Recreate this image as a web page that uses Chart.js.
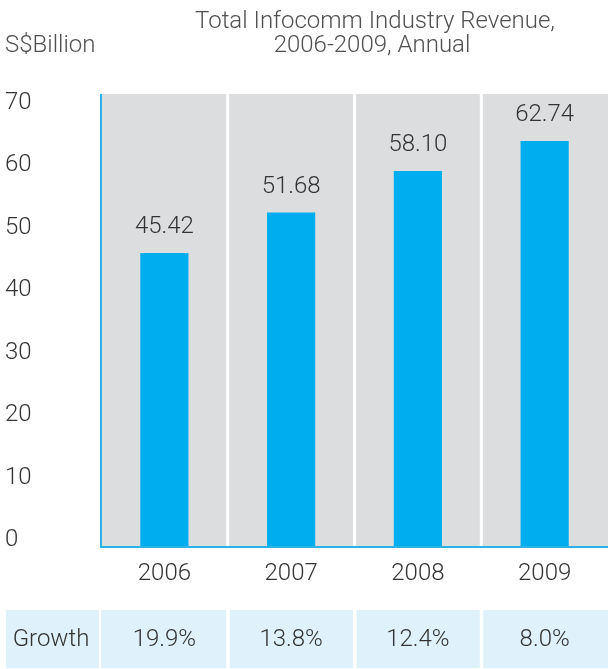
<!DOCTYPE html>
<html>
<head>
<meta charset="utf-8">
<script src="https://cdn.jsdelivr.net/npm/chart.js@4.4.1/dist/chart.umd.min.js"></script>
<style>
  html, body { margin: 0; padding: 0; background: #ffffff; }
  #wrap { width: 608px; height: 669px; position: relative; }
</style>
</head>
<body>
<div id="wrap"><canvas id="c" width="608" height="669"></canvas></div>
<script>
const years = ['2006', '2007', '2008', '2009'];
const revenue = [45.42, 51.68, 58.10, 62.74];
const growth = ['19.9%', '13.8%', '12.4%', '8.0%'];
const growthLabel = 'Growth';
const titleLines = ['Total Infocomm Industry Revenue,', '2006-2009, Annual'];
const unitLabel = 'S$Billion';
const yTicks = [0, 10, 20, 30, 40, 50, 60, 70];

const FAMILY = "Roboto, 'Liberation Sans', Arial, sans-serif";
const WEIGHT = 300;
const SIZE = 24;
const FONTSTR = WEIGHT + ' ' + SIZE + 'px ' + FAMILY;
const TEXT = '#333333';
const BLUE = '#00AEEF';
const AXIS = '#2BB3E6';
const GRAY = '#DCDDDF';
const LIGHT = '#DFF1FA';

const decor = {
  id: 'decor',
  beforeDatasetsDraw(chart) {
    const { ctx, chartArea: a, scales: { x } } = chart;
    ctx.save();
    ctx.fillStyle = GRAY;
    ctx.fillRect(a.left, a.top, a.right - a.left, a.bottom - a.top);
    ctx.fillStyle = '#ffffff';
    for (let i = 1; i < years.length; i++) {
      const b = (x.getPixelForValue(i - 1) + x.getPixelForValue(i)) / 2;
      ctx.fillRect(b - 1.5, a.top, 3, a.bottom - a.top);
    }
    ctx.restore();
  },
  afterDraw(chart) {
    const { ctx, chartArea: a, scales: { x } } = chart;
    ctx.save();
    ctx.strokeStyle = AXIS;
    ctx.lineWidth = 2;
    ctx.beginPath();
    ctx.moveTo(a.left, a.top);
    ctx.lineTo(a.left, a.bottom);
    ctx.lineTo(a.right, a.bottom);
    ctx.stroke();

    ctx.fillStyle = '#505050';
    ctx.font = FONTSTR;
    ctx.textAlign = 'center';
    ctx.textBaseline = 'middle';
    ctx.fillText(titleLines[0], 375, 22);
    ctx.fillText(titleLines[1], 372, 46);
    ctx.textAlign = 'left';
    ctx.fillText(unitLabel, 5, 46);

    ctx.fillStyle = TEXT;
    ctx.textAlign = 'center';
    const meta = chart.getDatasetMeta(0);
    meta.data.forEach((bar, i) => {
      ctx.fillText(revenue[i].toFixed(2), bar.x, bar.y - 26);
    });

    const rowTop = 610, rowBot = 668;
    ctx.fillStyle = LIGHT;
    ctx.fillRect(6, rowTop, a.left - 2 - 6, rowBot - rowTop);
    const bounds = [a.left];
    for (let i = 1; i < years.length; i++) bounds.push((x.getPixelForValue(i - 1) + x.getPixelForValue(i)) / 2);
    bounds.push(a.right);
    for (let i = 0; i < years.length; i++) {
      const l = i === 0 ? bounds[i] : bounds[i] + 2;
      const r = i === years.length - 1 ? bounds[i + 1] : bounds[i + 1] - 1.5;
      ctx.fillRect(l, rowTop, r - l, rowBot - rowTop);
    }
    ctx.fillStyle = TEXT;
    ctx.textAlign = 'center';
    ctx.fillText(growthLabel, 51, 640);
    for (let i = 0; i < years.length; i++) {
      ctx.fillText(growth[i], x.getPixelForValue(i), 640);
    }
    ctx.restore();
  }
};

new Chart(document.getElementById('c'), {
  type: 'bar',
  data: {
    labels: years,
    datasets: [{
      data: revenue,
      backgroundColor: BLUE,
      borderWidth: 0,
      barPercentage: 0.38,
      categoryPercentage: 1.0,
      yAxisID: 'y'
    }]
  },
  options: {
    responsive: false,
    animation: false,
    events: [],
    layout: { padding: { top: 94, left: 5, right: 0, bottom: 0 } },
    plugins: { legend: { display: false }, tooltip: { enabled: false }, title: { display: false } },
    scales: {
      x: {
        grid: { display: false, drawTicks: false },
        border: { display: false },
        ticks: { color: TEXT, font: { family: FAMILY, size: SIZE, weight: WEIGHT }, padding: 13 },
        afterFit(s) { s.height = 122; }
      },
      y: {
        display: false,
        min: 0, max: 70
      },
      yLabels: {
        position: 'left',
        min: -1.12, max: 71.44,
        afterBuildTicks(s) { s.ticks = yTicks.map(v => ({ value: v })); },
        grid: { display: false, drawTicks: false },
        border: { display: false },
        ticks: { color: TEXT, font: { family: FAMILY, size: SIZE, weight: WEIGHT }, crossAlign: 'far', padding: 0 },
        afterFit(s) { s.width = 96; }
      }
    }
  },
  plugins: [decor]
});
</script>
</body>
</html>
